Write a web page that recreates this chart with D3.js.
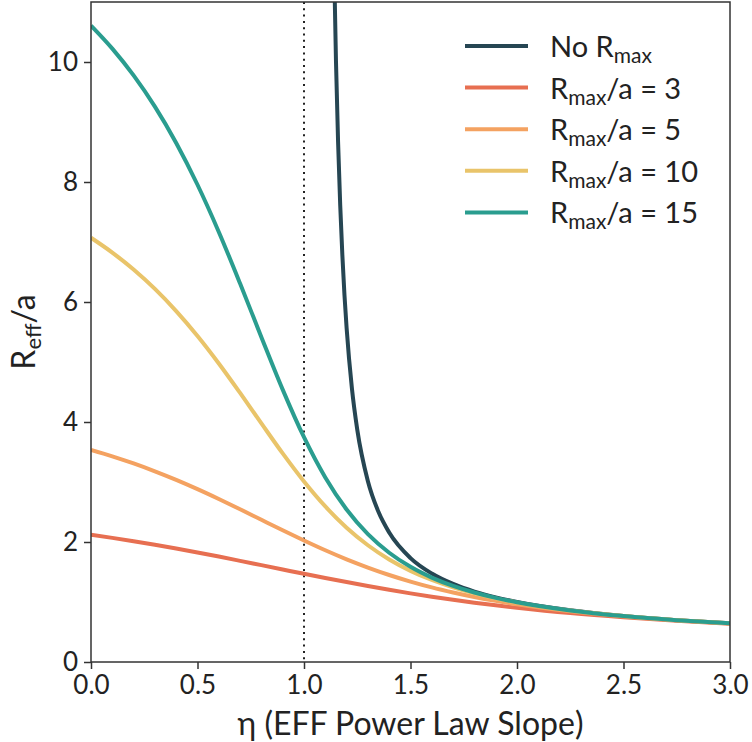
<!DOCTYPE html>
<html>
<head>
<meta charset="utf-8">
<script src="https://cdn.jsdelivr.net/npm/d3@7/dist/d3.min.js"></script>
<style>
    body { margin: 0; background: #ffffff; }
    text { font-family: Lato, "Open Sans", sans-serif; fill: #222222; }
</style>
</head>
<body>
<script>

// eta values where the truncated curves were read
var etaGrid = [0, 0.1, 0.2, 0.3, 0.4, 0.5, 0.6, 0.7, 0.8, 0.9, 1.0,
    1.1, 1.2, 1.3, 1.4, 1.5, 1.6, 1.7, 1.8, 1.9, 2.0, 2.25, 2.5, 2.75, 3.0];

var reffR3 = [2.121, 2.069, 2.013, 1.954, 1.891, 1.825, 1.757, 1.686, 1.614, 1.542, 1.470,
    1.400, 1.332, 1.266, 1.203, 1.144, 1.089, 1.037, 0.989, 0.945, 0.905, 0.816, 0.745, 0.686, 0.638];

var reffR5 = [3.536, 3.428, 3.309, 3.178, 3.035, 2.881, 2.717, 2.546, 2.370, 2.195, 2.025,
    1.862, 1.711, 1.574, 1.450, 1.340, 1.243, 1.159, 1.084, 1.019, 0.962, 0.847, 0.761, 0.695, 0.643];

var reffR10 = [7.071, 6.824, 6.542, 6.218, 5.849, 5.434, 4.976, 4.484, 3.977, 3.476, 3.008,
    2.592, 2.238, 1.946, 1.709, 1.519, 1.367, 1.244, 1.143, 1.060, 0.990, 0.858, 0.766, 0.697, 0.644];

var reffR15 = [10.607, 10.223, 9.776, 9.256, 8.651, 7.954, 7.168, 6.308, 5.414, 4.540, 3.746,
    3.075, 2.541, 2.131, 1.821, 1.586, 1.407, 1.268, 1.158, 1.069, 0.996, 0.860, 0.766, 0.697, 0.644];

// no truncation: only the part below the top of the axes
var etaNoMax = [1.14, 1.15, 1.16, 1.17, 1.18, 1.19, 1.2, 1.225, 1.25, 1.3, 1.35, 1.4,
    1.5, 1.6, 1.7, 1.8, 1.9, 2.0, 2.25, 2.5, 2.75, 3.0];

var reffNoMax = [11.846, 10.030, 8.667, 7.615, 6.785, 6.116, 5.568, 4.558, 3.873, 3.013, 2.499, 2.158,
    1.732, 1.475, 1.301, 1.174, 1.077, 1.000, 0.861, 0.766, 0.697, 0.644];

var seriesNames = ["No Rmax", "Rmax/a = 3", "Rmax/a = 5", "Rmax/a = 10", "Rmax/a = 15"];
var legendHead = ["No R", "R", "R", "R", "R"];
var legendSub = ["max", "max", "max", "max", "max"];
var legendTail = ["", "/a = 3", "/a = 5", "/a = 10", "/a = 15"];
var seriesColors = ["#264653", "#e76f51", "#f4a261", "#e9c46a", "#2a9d8f"];

var xTicks = [0, 0.5, 1.0, 1.5, 2.0, 2.5, 3.0];
var yTicks = [0, 2, 4, 6, 8, 10];
var etaMark = 1.0;

d3.select(window).on('load', init);

function init()
{
    var W = 752;
    var H = 742;
    var margin = {top: 2, right: 22, bottom: 80, left: 91};
    var w = W - margin.left - margin.right;
    var h = H - margin.top - margin.bottom;

    var svg = d3.select("body")
        .append("svg")
        .attr("width", W)
        .attr("height", H);

    var g = svg.append("g")
        .attr("transform", "translate(" + margin.left + "," + margin.top + ")");

    var xScale = d3.scaleLinear().domain([0, 3]).range([0, w]);
    var yScale = d3.scaleLinear().domain([0, 11]).range([h, 0]);

    g.append("clipPath")
        .attr("id", "plotclip")
        .append("rect")
        .attr("width", w)
        .attr("height", h);

    // dotted line at eta = 1
    g.append("line")
        .attr("x1", xScale(etaMark))
        .attr("x2", xScale(etaMark))
        .attr("y1", 0)
        .attr("y2", h)
        .attr("stroke", "#222")
        .attr("stroke-width", 2)
        .attr("stroke-dasharray", "2,4.3");

    var series = [
        {x: etaNoMax, y: reffNoMax},
        {x: etaGrid, y: reffR3},
        {x: etaGrid, y: reffR5},
        {x: etaGrid, y: reffR10},
        {x: etaGrid, y: reffR15}
    ];

    var line = d3.line()
        .x(function(d) { return xScale(d[0]); })
        .y(function(d) { return yScale(d[1]); })
        .curve(d3.curveMonotoneX);

    g.append("g")
        .attr("clip-path", "url(#plotclip)")
        .selectAll("path")
        .data(series)
        .enter()
        .append("path")
        .attr("fill", "none")
        .attr("stroke", function(d, i) { return seriesColors[i]; })
        .attr("stroke-width", 4)
        .attr("d", function(d) {
            return line(d.x.map(function(v, k) { return [v, d.y[k]]; }));
        });

    // axes
    var xAxis = d3.axisBottom(xScale)
        .tickValues(xTicks)
        .tickFormat(d3.format(".1f"))
        .tickSizeInner(7)
        .tickSizeOuter(0)
        .tickPadding(7);

    var yAxis = d3.axisLeft(yScale)
        .tickValues(yTicks)
        .tickFormat(d3.format("d"))
        .tickSizeInner(7)
        .tickSizeOuter(0)
        .tickPadding(6);

    var gx = g.append("g")
        .attr("transform", "translate(0," + h + ")")
        .call(xAxis);

    var gy = g.append("g")
        .call(yAxis);

    [gx, gy].forEach(function(a) {
        a.select(".domain").remove();
        a.selectAll(".tick line").attr("stroke", "#333").attr("stroke-width", 1.5);
        a.selectAll(".tick text")
            .attr("fill", "#222")
            .style("font-family", "Lato, 'Open Sans', sans-serif")
            .style("font-size", "26px");
    });

    // frame
    g.append("rect")
        .attr("width", w)
        .attr("height", h)
        .attr("fill", "none")
        .attr("stroke", "#333")
        .attr("stroke-width", 1.5);

    // axis labels
    g.append("text")
        .attr("x", w / 2)
        .attr("y", h + 73)
        .attr("text-anchor", "middle")
        .style("font-size", "32px")
        .text("\u03b7 (EFF Power Law Slope)");

    var ylab = g.append("text")
        .attr("transform", "translate(-56," + (h / 2) + ") rotate(-90)")
        .attr("text-anchor", "middle")
        .style("font-size", "32px");
    ylab.append("tspan").text("R");
    ylab.append("tspan").attr("dy", 6).style("font-size", "22px").text("eff");
    ylab.append("tspan").attr("dy", -6).text("/a");

    // legend
    var legend = svg.append("g")
        .attr("transform", "translate(465,46)");

    var rows = legend.selectAll("g")
        .data(seriesNames)
        .enter()
        .append("g")
        .attr("transform", function(d, i) { return "translate(0," + (i * 41.6) + ")"; });

    rows.append("line")
        .attr("x1", 0)
        .attr("x2", 63)
        .attr("stroke", function(d, i) { return seriesColors[i]; })
        .attr("stroke-width", 4);

    var lt = rows.append("text")
        .attr("x", 85)
        .attr("y", 11)
        .style("font-size", "29px");
    lt.append("tspan").text(function(d, i) { return legendHead[i]; });
    lt.append("tspan")
        .attr("dy", 6)
        .style("font-size", "21px")
        .text(function(d, i) { return legendSub[i]; });
    lt.append("tspan")
        .attr("dy", -6)
        .text(function(d, i) { return legendTail[i]; });
}

</script>
</body>
</html>
